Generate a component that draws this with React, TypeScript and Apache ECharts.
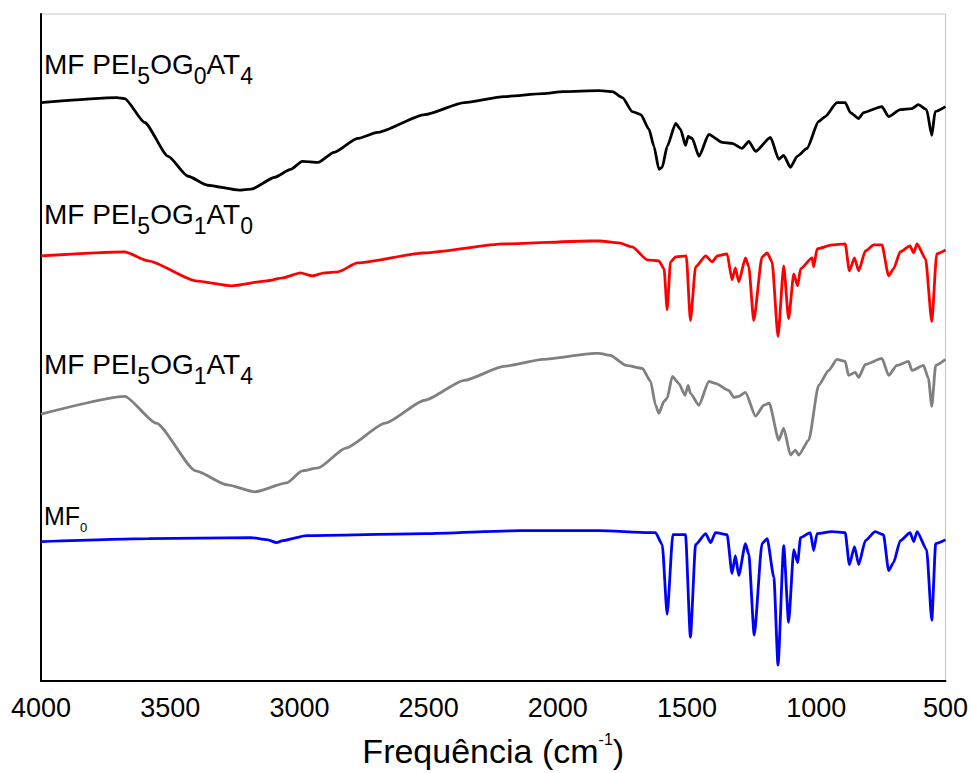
import React, { useEffect, useRef } from "react";
import * as echarts from "echarts";

// Wavenumber (cm-1) vs. offset transmittance (arbitrary units)
const xTicks = [4000, 3500, 3000, 2500, 2000, 1500, 1000, 500];

const seriesNames = ["MF PEI5OG0AT4", "MF PEI5OG1AT0", "MF PEI5OG1AT4", "MF0"];

const blackSpectrum: [number, number][] = [
  [4000, 581], [3706, 586], [3676, 585], [3599, 561], [3508, 527], [3431, 507],
  [3355, 498], [3233, 493], [3187, 494], [3095, 506], [3034, 514], [2989, 522],
  [2928, 521], [2866, 531], [2775, 545], [2698, 551], [2515, 569], [2362, 581],
  [2209, 587], [2057, 590], [1980, 592], [1840, 593], [1789, 592], [1750, 586],
  [1712, 572], [1679, 569], [1647, 554], [1628, 537], [1609, 514], [1596, 516],
  [1577, 537], [1544, 560], [1525, 554], [1506, 538], [1496, 547], [1480, 545],
  [1454, 527], [1416, 549], [1364, 541], [1326, 540], [1287, 535], [1261, 542],
  [1235, 532], [1177, 546], [1145, 524], [1126, 528], [1100, 516], [1074, 527],
  [1036, 535], [991, 562], [965, 567], [920, 581], [888, 581], [868, 571],
  [836, 565], [817, 571], [746, 577], [720, 567], [675, 574], [630, 575],
  [605, 579], [573, 574], [553, 548], [540, 572], [500, 577],
];

const redSpectrum: [number, number][] = [
  [4000, 427], [3676, 431], [3584, 422], [3401, 402], [3263, 397], [3126, 402],
  [3065, 405], [2996, 410], [2950, 407], [2904, 410], [2851, 411], [2775, 420],
  [2515, 430], [2209, 439], [1873, 442], [1840, 442], [1763, 440], [1712, 436],
  [1654, 423], [1609, 422], [1589, 414], [1577, 373], [1564, 421], [1544, 426],
  [1503, 427], [1487, 362], [1467, 416], [1428, 427], [1403, 421], [1383, 427],
  [1345, 429], [1326, 403], [1313, 415], [1300, 401], [1274, 425], [1261, 416],
  [1242, 362], [1210, 426], [1190, 430], [1171, 421], [1148, 346], [1126, 417],
  [1107, 364], [1087, 409], [1072, 397], [1061, 414], [1016, 425], [1010, 416],
  [997, 434], [939, 438], [888, 439], [872, 412], [852, 425], [836, 412],
  [810, 432], [778, 438], [746, 438], [720, 407], [701, 414], [675, 431],
  [637, 437], [623, 430], [610, 439], [577, 424], [553, 361], [534, 429],
  [500, 433],
];

const graySpectrum: [number, number][] = [
  [4000, 268], [3676, 286], [3554, 259], [3401, 211], [3279, 197], [3172, 190],
  [3050, 199], [2989, 211], [2928, 214], [2821, 234], [2668, 259], [2515, 282],
  [2362, 302], [2209, 316], [2057, 323], [1858, 329], [1840, 329], [1797, 327],
  [1736, 317], [1673, 314], [1641, 301], [1622, 277], [1609, 269], [1589, 281],
  [1577, 284], [1557, 306], [1532, 299], [1508, 287], [1496, 297], [1487, 289],
  [1454, 277], [1416, 301], [1390, 299], [1339, 292], [1319, 285], [1300, 286],
  [1274, 290], [1235, 266], [1203, 277], [1182, 279], [1145, 242], [1126, 254],
  [1100, 227], [1081, 232], [1068, 227], [1029, 242], [991, 297], [952, 312],
  [920, 323], [888, 321], [875, 307], [849, 310], [836, 305], [810, 318],
  [746, 324], [720, 307], [688, 317], [643, 321], [630, 312], [585, 317],
  [566, 304], [553, 276], [538, 317], [500, 323],
];

const blueSpectrum: [number, number][] = [
  [4000, 140], [3584, 143], [3187, 144], [3126, 142], [3088, 139], [3065, 141],
  [2973, 146], [2515, 148], [2148, 151], [1840, 151], [1647, 149], [1622, 149],
  [1596, 137], [1577, 67], [1555, 147], [1506, 147], [1487, 44], [1467, 137],
  [1428, 148], [1409, 139], [1390, 149], [1345, 147], [1326, 108], [1313, 126],
  [1300, 106], [1274, 138], [1261, 127], [1240, 46], [1210, 138], [1190, 143],
  [1164, 104], [1148, 16], [1126, 136], [1107, 59], [1087, 132], [1072, 119],
  [1061, 144], [1023, 149], [1010, 131], [997, 148], [939, 150], [888, 149],
  [872, 117], [852, 135], [836, 117], [810, 141], [772, 150], [740, 147],
  [720, 111], [701, 119], [675, 141], [637, 149], [623, 140], [610, 150],
  [573, 132], [553, 61], [538, 138], [500, 142],
];

const FONT = "'Liberation Sans', Arial, sans-serif";

export default function App() {
  const ref = useRef<HTMLDivElement>(null);

  useEffect(() => {
    if (!ref.current) return;
    const chart = echarts.init(ref.current, undefined, { renderer: "svg" });

    const richLabel = (text: string, top: number, rich: any) => ({
      type: "text",
      left: 44,
      top,
      style: { text, rich },
    });

    const rich1 = {
      m: { fontSize: 28, lineHeight: 46, fontFamily: FONT, color: "#000" },
      s: { fontSize: 23, lineHeight: 23, verticalAlign: "bottom", fontFamily: FONT, color: "#000" },
    };
    const rich4 = {
      m: { fontSize: 25, lineHeight: 37, fontFamily: FONT, color: "#000" },
      s: { fontSize: 13, lineHeight: 13, verticalAlign: "bottom", fontFamily: FONT, color: "#000" },
    };

    const mk = (name: string, data: [number, number][], color: string) => ({
      name,
      type: "line",
      data,
      showSymbol: false,
      symbol: "none",
      smooth: 0.2,
      smoothMonotone: "x",
      lineStyle: { color, width: 2.8 },
      z: 3,
    });

    chart.setOption({
      animation: false,
      backgroundColor: "#ffffff",
      grid: {
        left: 41,
        right: 24,
        top: 14,
        bottom: 89,
        show: true,
        borderColor: "#c4c4c4",
        borderWidth: 1,
      },
      xAxis: {
        type: "value",
        inverse: true,
        min: 500,
        max: 4000,
        interval: 500,
        axisLine: { show: true, onZero: false, lineStyle: { color: "#000", width: 2 } },
        axisTick: { show: false },
        splitLine: { show: false },
        axisLabel: {
          color: "#000",
          fontSize: 27,
          fontFamily: FONT,
          margin: 13,
          formatter: (v: number) => (xTicks.includes(v) ? String(v) : ""),
        },
        name: "{a|Frequência (cm}{s|-1}{a|)}",
        nameLocation: "middle",
        nameGap: 50,
        nameTextStyle: {
          rich: {
            a: { fontSize: 34, fontFamily: FONT, color: "#000", lineHeight: 40 },
            s: { fontSize: 16, fontFamily: FONT, color: "#000", verticalAlign: "top", lineHeight: 16 },
          },
        },
      },
      yAxis: {
        type: "value",
        min: 0,
        max: 670,
        axisLine: { show: true, onZero: false, lineStyle: { color: "#000", width: 2 } },
        axisTick: { show: false },
        axisLabel: { show: false },
        splitLine: { show: false },
      },
      series: [
        mk(seriesNames[0], blackSpectrum, "#000000"),
        mk(seriesNames[1], redSpectrum, "#ff0000"),
        mk(seriesNames[2], graySpectrum, "#808080"),
        mk(seriesNames[3], blueSpectrum, "#0000ff"),
      ],
      graphic: [
        richLabel("{m|MF PEI}{s|5}{m|OG}{s|0}{m|AT}{s|4}", 50, rich1),
        richLabel("{m|MF PEI}{s|5}{m|OG}{s|1}{m|AT}{s|0}", 200, rich1),
        richLabel("{m|MF PEI}{s|5}{m|OG}{s|1}{m|AT}{s|4}", 350, rich1),
        richLabel("{m|MF}{s|0}", 503, rich4),
      ],
    });

    return () => chart.dispose();
  }, []);

  return (
    <div
      ref={ref}
      style={{ position: "fixed", left: 0, top: 0, width: 971, height: 773, background: "#fff" }}
    />
  );
}
